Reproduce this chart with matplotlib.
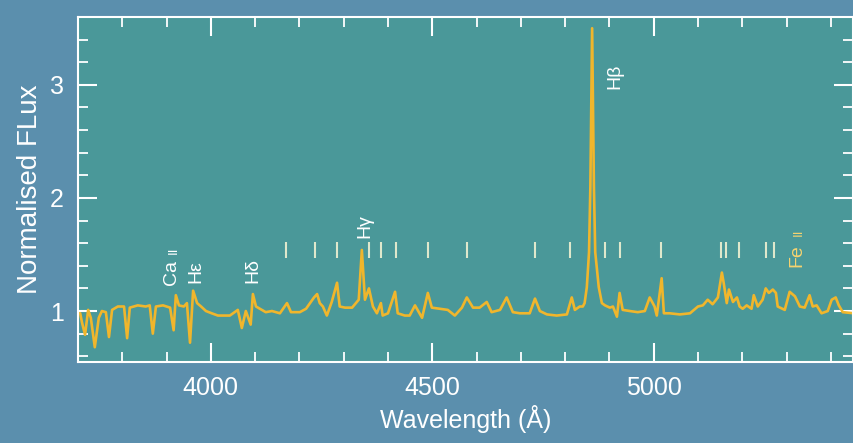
import numpy as np
import matplotlib
matplotlib.use("Agg")
import matplotlib.pyplot as plt
from matplotlib.ticker import MultipleLocator

plt.rcParams['font.family'] = ['Liberation Sans', 'DejaVu Sans']

# spectrum (wavelength in A, normalised flux)
wave = [3700, 3705, 3709, 3716, 3723, 3729, 3738, 3747, 3754, 3763, 3770, 3777,
        3790, 3804, 3811, 3817, 3835, 3853, 3862, 3869, 3876, 3892, 3908, 3916,
        3921, 3928, 3939, 3946, 3953, 3960, 3969, 3978, 3989, 4002, 4016, 4030,
        4043, 4054, 4061, 4070, 4079, 4090, 4095, 4102, 4111, 4124, 4138, 4156,
        4172, 4181, 4201, 4215, 4224, 4233, 4240, 4246, 4253, 4262, 4273, 4285,
        4291, 4303, 4319, 4334, 4341, 4348, 4357, 4366, 4375, 4384, 4388, 4400,
        4416, 4422, 4438, 4449, 4461, 4477, 4490, 4499, 4517, 4535, 4551, 4567,
        4578, 4592, 4607, 4623, 4634, 4653, 4668, 4682, 4698, 4720, 4732, 4743,
        4759, 4781, 4804, 4815, 4822, 4833, 4840, 4844, 4849, 4854, 4857, 4861,
        4865, 4868, 4876, 4883, 4890, 4901, 4908, 4917, 4923, 4930, 4946, 4964,
        4980, 4991, 5002, 5007, 5018, 5023, 5036, 5059, 5082, 5100, 5111, 5122,
        5133, 5145, 5154, 5158, 5165, 5170, 5179, 5188, 5194, 5201, 5210, 5221,
        5226, 5235, 5246, 5253, 5260, 5269, 5276, 5280, 5296, 5307, 5319, 5330,
        5341, 5352, 5359, 5368, 5379, 5393, 5402, 5411, 5418, 5427, 5452]
flux = [0.98, 0.98, 0.90, 0.79, 1.01, 0.94, 0.68, 0.94, 1.00, 0.99, 0.77, 1.01,
        1.04, 1.04, 0.76, 1.03, 1.05, 1.04, 1.05, 0.80, 1.04, 1.05, 1.03, 0.83,
        1.14, 1.05, 1.04, 1.07, 0.72, 1.18, 1.07, 1.04, 1.00, 0.98, 0.96, 0.96,
        0.96, 0.99, 1.01, 0.85, 1.00, 0.88, 1.15, 1.04, 1.02, 0.99, 1.00, 0.98,
        1.07, 0.99, 0.99, 1.02, 1.07, 1.12, 1.15, 1.07, 1.04, 0.96, 1.08, 1.25,
        1.04, 1.03, 1.03, 1.10, 1.54, 1.10, 1.20, 1.04, 0.98, 1.07, 0.96, 0.98,
        1.17, 0.98, 0.96, 0.96, 1.05, 0.94, 1.16, 1.03, 1.02, 1.01, 0.96, 1.03,
        1.12, 1.03, 1.03, 1.08, 0.99, 1.01, 1.12, 0.99, 0.98, 0.98, 1.11, 1.00,
        0.97, 0.96, 0.97, 1.12, 1.01, 1.04, 1.04, 1.07, 1.21, 1.52, 2.10, 3.50,
        2.10, 1.52, 1.21, 1.07, 1.05, 1.03, 1.04, 0.95, 1.16, 1.01, 1.00, 0.99,
        1.00, 1.12, 1.04, 0.96, 1.29, 0.98, 0.98, 0.97, 0.98, 1.04, 1.05, 1.10,
        1.06, 1.12, 1.34, 1.25, 1.07, 1.19, 1.08, 1.12, 1.04, 1.02, 1.05, 1.02,
        1.14, 1.04, 1.10, 1.20, 1.16, 1.19, 1.16, 1.04, 1.01, 1.17, 1.13, 1.04,
        1.03, 1.14, 1.04, 1.05, 0.98, 1.00, 1.10, 1.12, 1.05, 0.99, 0.98]

# Fe II line marks
feii_marks = [4169, 4236, 4285, 4357, 4385, 4417, 4491, 4578, 4731, 4810,
              4889, 4924, 5017, 5151, 5164, 5193, 5254, 5272]
mark_lo, mark_hi = 1.47, 1.61

# line labels: (main text, small numeral, wavelength, flux at bottom, colour)
labels = [("Ca", "II", 3912, 1.23, "white"),
          ("H\u03b5", "", 3966, 1.25, "white"),
          ("H\u03b4", "", 4095, 1.25, "white"),
          ("H\u03b3", "", 4348, 1.65, "white"),
          ("H\u03b2", "", 4912, 2.96, "white"),
          ("Fe", "II", 5323, 1.39, "#f5d370")]

fig = plt.figure(figsize=(8.54, 4.43), dpi=100, facecolor='#5b8fad')
ax = fig.add_axes([0.0913, 0.183, 0.9075, 0.7788])
ax.set_facecolor('#4a9899')

ax.plot(wave, flux, color='#f0b62c', lw=1.9)
ax.vlines(feii_marks, mark_lo, mark_hi, color='#dfe8cc', lw=1.5)

for main, small, x, y, c in labels:
    ax.text(x, y, main, rotation=90, color=c, fontsize=14,
            ha='center', va='bottom')
    if small:
        ax.annotate(small, (x, y), xytext=(1.5, 22), textcoords='offset points',
                    rotation=90, color=c, fontsize=9.5, ha='center', va='bottom')

ax.set_xlim(3700, 5450)
ax.set_ylim(0.55, 3.6)
ax.set_xticks([4000, 4500, 5000])
ax.set_yticks([1, 2, 3])
ax.xaxis.set_minor_locator(MultipleLocator(100))
ax.yaxis.set_minor_locator(MultipleLocator(0.2))
ax.tick_params(which='both', direction='in', top=True, right=True,
               color='white', labelcolor='white', labelsize=18, pad=10)
ax.tick_params(which='major', length=14, width=1.5)
ax.tick_params(which='minor', length=7, width=1.3)
for s in ax.spines.values():
    s.set_color('white')
    s.set_linewidth(1.5)

ax.set_xlabel("Wavelength (\u00c5)", color='white', fontsize=18, labelpad=4)
ax.set_ylabel("Normalised FLux", color='white', fontsize=20, labelpad=5)

fig.savefig("out.png", dpi=100, facecolor=fig.get_facecolor())
